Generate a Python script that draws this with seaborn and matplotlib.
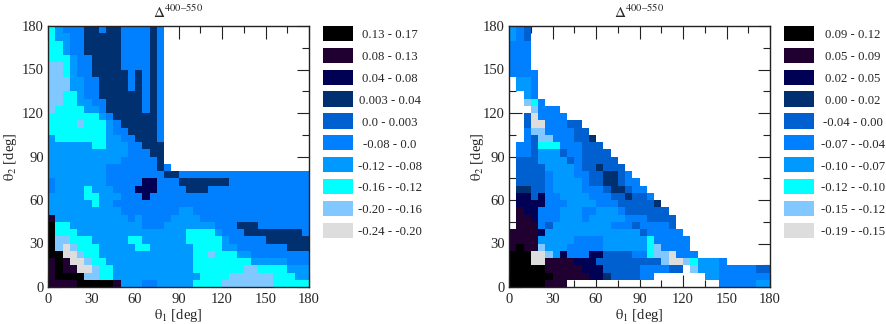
import numpy as np
import matplotlib
matplotlib.use('Agg')
import matplotlib.pyplot as plt
from matplotlib.colors import ListedColormap
from matplotlib.patches import Rectangle
import seaborn as sns

# class colours, highest bin first
colors = ['#000000', '#200030', '#000055', '#003070', '#0060d0',
          '#0080ff', '#0099ff', '#00ffff', '#80c8ff', '#dddddd']

left_labels = ['0.13 - 0.17', '0.08 - 0.13', '0.04 - 0.08', '0.003 - 0.04', '0.0 - 0.003',
               '-0.08 - 0.0', '-0.12 - -0.08', '-0.16 - -0.12', '-0.20 - -0.16', '-0.24 - -0.20']
right_labels = ['0.09 - 0.12', '0.05 - 0.09', '0.02 - 0.05', '0.00 - 0.02', '-0.04 - 0.00',
                '-0.07 - -0.04', '-0.10 - -0.07', '-0.12 - -0.10', '-0.15 - -0.12', '-0.19 - -0.15']
title = '$\\Delta^{\\mathrm{400{\u2013}550}}$'
angle_ticks = [0, 30, 60, 90, 120, 150, 180]

# bin index per 5 deg cell, top row (175-180) first, run lengths as value x count
left_rows = [
    '7 6 5x3 3x2 5 3x2 5x4 3 5',
    '7 6x2 5x2 3x5 5x4 3 5',
    '7x2 6 5x2 3x5 5x4 3 5',
    '7x2 6 5x2 3x5 5x4 3 5',
    '7x3 6 5x2 3x4 5x4 3 5',
    '8x2 7 6 5x2 3x4 5x4 3 5',
    '8x2 7 6 5x2 3x5 5 3 5 3 5',
    '8x3 6x2 5x2 3x4 5 3 5 3 5',
    '8x3 6x2 5x2 3x4 5 3 5 3 5',
    '8x2 7x2 6 5x2 3x6 5 3 5',
    '8x2 7x2 6x2 5x2 3x5 5 3 5',
    '8 7x4 6x2 5 3x5 5 3 5',
    '7x7 6 5 3x6 5',
    '7x4 8 7x3 6 5 3x5 5',
    '7x8 6 5x2 3x4 5',
    '6 7x7 6x2 5x2 3x3 5',
    '6x6 7x2 6x3 5x2 3x3',
    '6x11 5x3 3x2',
    '6x10 5x5 3',
    '6x8 5x7 3 5',
    '6x8 5x8 3x2 5x18',
    '5 6x7 5x5 2x2 5x3 3x7 5x11',
    '5 6x4 7 6x3 5x3 2x3 5x4 3x3 5x14',
    '6x5 7x2 6x3 5x3 2 5x22',
    '6x6 7 6x2 5x27',
    '6x10 5x8 6x2 5x16',
    '1 6x10 5 6 5x4 6x4 5x15',
    '0 7x2 6x10 5x3 6x7 5x3 3x3 5x7',
    '0 7x3 6x15 7x4 6 5x3 3x8 5',
    '0 8x2 7x3 6x5 7x2 6x6 7x5 6 5x5 3x6',
    '0 8 9 8 7x3 6x5 7x2 6x6 7x4 6x2 5x7 3x3',
    '0x2 9x2 8 7x2 6x13 7x2 8 7x3 6x2 5x8',
    '1 0 1 9x2 8 7x2 6x12 7x8 6x5 5x3',
    '1 0 1x2 9x2 8 7x2 6x11 7x7 8x2 7x4 6x3',
    '1 0x4 8x2 7x2 6x12 7x4 8x6 7x3 6x2',
    '1x4 0x5 1 6x3 5x2 6x5 7x4 8x7 7x5',
]

right_rows = [
    '6 5 4',
    '6 5 4',
    '5x3',
    '5x3',
    '5x3',
    '5x3',
    '5x4',
    '. 6x2 5',
    '. 6x2 5',
    '.x2 6 5',
    '.x2 8 7 5',
    '.x3 8 5x3',
    '.x2 4 9 5x4',
    '.x2 4 9x2 5x3 4x2',
    '.x2 5 8x2 5x4 4x2',
    '.x2 5 4 8x2 5x3 4x2 3',
    '. 5x2 4 7x3 5x3 4x3',
    '. 5x2 4 6x3 4 5x2 4x4',
    '. 4x3 6x4 4 5 4x5',
    '. 4x4 6x4 5 4x2 3 4x3',
    '. 4x4 5 6x3 5x2 4x2 3x2 4 5',
    '. 4x4 5 6x4 5 4x2 3x2 4 5x2',
    '. 3x2 4x2 5 6x4 5x3 4 3x2 4 5x2',
    '. 2x2 4 2 5x2 6x4 5x3 4x2 3 4x2 5',
    '. 2x4 5x3 6x4 5x3 4x5 3',
    '. 1 2x2 5x3 6x3 5x2 6x3 5 4x6',
    '. 1x2 2 5x3 6x3 5 6x5 5x3 4x4',
    '. 1x3 5 4 6x8 5x3 4 5x4 4',
    '1x4 2 6x13 4 5x5',
    '1x4 6x5 5x4 6x6 7 5x5',
    '1 0 1x2 8 6x3 5x5 6x6 7 8 5x4',
    '0x3 9x2 8 6 2 5x3 2x2 4x4 5x2 7 8x2 9 5x3',
    '0x3 9x2 1x4 2x3 4x9 8 9x2 8 7 6x3 5',
    '0x5 1x5 2x3 4x5 5x4 4x2 . 8 6x3 5x5 4x2',
    '0x6 1x5 2x2 3 4x4 5x2 .x7 6x2 5x7',
    '0x5 1x3 .x21 5x5 6x2',
]


def decode(rows):
    grid = np.full((36, 36), np.nan)
    for i, row in enumerate(rows):
        col = 0
        for token in row.split():
            val, _, count = token.partition('x')
            count = int(count) if count else 1
            if val != '.':
                grid[i, col:col + count] = int(val)
            col += count
    return grid


def draw_panel(grid, box, ypad):
    ax = fig.add_axes([box[0] / 886, 1 - box[3] / 324, (box[2] - box[0]) / 886, (box[3] - box[1]) / 324])
    sns.heatmap(grid, ax=ax, mask=np.isnan(grid), cmap=ListedColormap(colors), vmin=-0.5, vmax=9.5,
                cbar=False, square=False, xticklabels=False, yticklabels=False, linewidths=0)
    xt = [a / 5 for a in angle_ticks]
    yt = [(180 - a) / 5 for a in angle_ticks]
    ax.set_xticks(xt)
    ax.set_xticklabels(angle_ticks, rotation=0)
    ax.set_yticks(yt)
    ax.set_yticklabels(angle_ticks, rotation=0)
    ax.set_xticks(np.arange(0, 37, 3), minor=True)
    ax.set_yticks(np.arange(0, 37, 3), minor=True)
    ax.tick_params(which='major', direction='in', top=True, right=True, length=9, width=0.8, pad=3,
                   labelsize=10.5, color='#222222')
    ax.tick_params(which='minor', direction='in', top=True, right=True, length=5, width=0.8, color='#222222')
    ax.tick_params(axis='x', which='major', pad=4)
    for side in ax.spines.values():
        side.set_visible(True)
        side.set_linewidth(1.0)
        side.set_color('#222222')
    ax.set_xlabel(r'$\mathrm{\theta_1}$ [deg]', fontsize=10.5, labelpad=1)
    ax.set_ylabel(r'$\mathrm{\theta_2}$ [deg]', fontsize=10.5, labelpad=ypad)
    ax.set_title(title, fontsize=11, pad=6)
    return ax


def draw_legend(labels, x0, text_x):
    for i, (lab, col) in enumerate(zip(labels, colors)):
        y = 25.7 + 21.9 * i
        fig.add_artist(Rectangle((x0 / 886, 1 - (y + 15.3) / 324), 29.7 / 886, 15.3 / 324,
                                 transform=fig.transFigure, facecolor=col, edgecolor='none'))
        fig.text(text_x / 886, 1 - (y + 9.5) / 324, lab, ha='center', va='center', fontsize=9.2)


sns.set_style('ticks')
plt.rcParams['font.family'] = ['Liberation Serif', 'DejaVu Serif']
plt.rcParams['mathtext.fontset'] = 'stix'

fig = plt.figure(figsize=(8.86, 3.24), dpi=100)
draw_panel(decode(left_rows), (48, 26, 309, 287), 2)
draw_panel(decode(right_rows), (509, 26, 770, 287), -2)
draw_legend(left_labels, 323, 390)
draw_legend(right_labels, 784.3, 853)
fig.savefig('out.png', dpi=100)
